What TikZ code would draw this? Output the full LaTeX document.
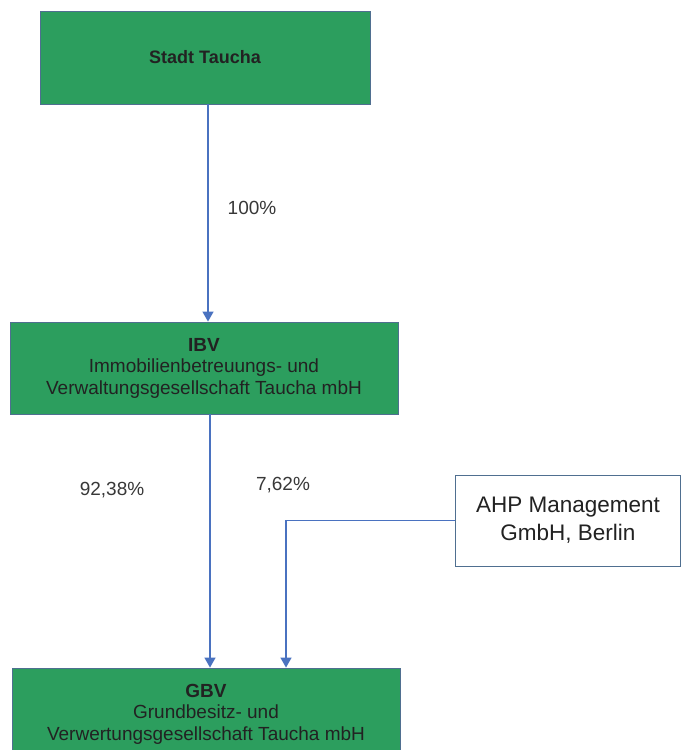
\documentclass[tikz,border=0pt]{standalone}
\usepackage{fontspec}
\setmainfont{Liberation Sans}
\usetikzlibrary{arrows.meta}
\definecolor{boxgreen}{HTML}{2C9E5E}
\definecolor{boxedge}{HTML}{4F6F90}
\definecolor{linkblue}{HTML}{4A72C0}
\definecolor{txt}{HTML}{222222}
\begin{document}
\begin{tikzpicture}[x=1pt,y=1pt,
  greenbox/.style={draw=boxedge, line width=0.8pt, fill=boxgreen, inner sep=0pt,
    align=center, text=txt, font=\fontsize{19}{21.5}\selectfont},
  whitebox/.style={draw=boxedge, line width=0.8pt, fill=white, inner sep=0pt,
    align=center, text=txt, font=\fontsize{22.5}{28}\selectfont},
  arr/.style={draw=linkblue, line width=1.2pt, -{Triangle[length=10pt,width=11pt]}},
  pct/.style={text=txt!90, font=\fontsize{19}{21}\selectfont, inner sep=0pt}]
\useasboundingbox (0,0) rectangle (681,750);
\begin{scope}
\clip (0,0) rectangle (681,750);
\node[greenbox, minimum width=330pt, minimum height=93pt] (stadt) at (205,692.5)
  {\fontsize{18}{21}\selectfont\bfseries Stadt Taucha};
\node[greenbox, minimum width=388pt, minimum height=92pt] (ibv) at (204,382)
  {\textbf{IBV}\\Immobilienbetreuungs- und\\Verwaltungsgesellschaft Taucha mbH};
\node[greenbox, minimum width=388pt, minimum height=92pt] (gbv) at (206,36)
  {\textbf{GBV}\\Grundbesitz- und\\Verwertungsgesellschaft Taucha mbH};
\node[whitebox, minimum width=225pt, minimum height=91pt] (ahp) at (568,229.5)
  {AHP Management\\GmbH, Berlin};
\end{scope}
\coordinate (j) at (286,229.5);
\draw[arr] ([xshift=3pt]stadt.south) -- ([xshift=3pt]stadt.south |- ibv.north);
\draw[arr] ([xshift=6pt]ibv.south) -- ([xshift=6pt]ibv.south |- gbv.north);
\draw[arr] (ahp.west) -- (j) -- (j |- gbv.north);
\node[pct] (l100) at (252,542) {100\%};
\node[pct] (l92) at (112,260) {92,38\%};
\node[pct] (l7) at (283,265) {7,62\%};
\end{tikzpicture}
\end{document}
